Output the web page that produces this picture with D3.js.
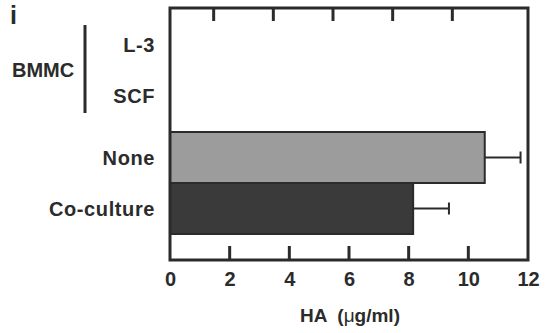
<!DOCTYPE html>
<html><head><meta charset="utf-8">
<script src="https://cdn.jsdelivr.net/npm/d3@7"></script>
<style>body{margin:0;background:#fff}svg{display:block}text{font-family:"Liberation Sans",Arial,sans-serif;font-weight:bold;fill:#2b2b2b}</style>
</head><body><svg id="c" width="547" height="333"></svg>
<script>
const categories = ["L-3", "SCF", "None", "Co-culture"];
const values = [null, null, 10.55, 8.15];
const errors = [null, null, 1.2, 1.2];
const fills = [null, null, "#9c9c9c", "#3a3a3a"];
const xTicks = [0, 2, 4, 6, 8, 10, 12];
const groupLabel = "BMMC";
const panelLabel = "i";
const xTitleParts = ["HA  (", "\u03bc", "g/ml)"];

(function () {
const svg = d3.select("#c");
const x = d3.scaleLinear().domain([0, 12]).range([170, 528]);
const y = d3.scaleBand().domain(categories).range([30, 234]).padding(0);
const frameTop = 8, frameBottom = 260;
const ink = "#2b2b2b";

const data = categories.map((c, i) => ({c, v: values[i], e: errors[i], f: fills[i]})).filter(d => d.v != null);
svg.selectAll("rect.bar").data(data).enter().append("rect")
  .attr("x", x(0)).attr("y", d => y(d.c)).attr("width", d => x(d.v) - x(0))
  .attr("height", y.bandwidth()).attr("fill", d => d.f)
  .attr("stroke", ink).attr("stroke-width", 2);

const eb = svg.selectAll("g.err").data(data).enter().append("g");
eb.append("line").attr("x1", d => x(d.v)).attr("x2", d => x(d.v + d.e))
  .attr("y1", d => y(d.c) + y.bandwidth() / 2).attr("y2", d => y(d.c) + y.bandwidth() / 2)
  .attr("stroke", ink).attr("stroke-width", 2);
eb.append("line").attr("x1", d => x(d.v + d.e)).attr("x2", d => x(d.v + d.e))
  .attr("y1", d => y(d.c) + y.bandwidth() / 2 - 6).attr("y2", d => y(d.c) + y.bandwidth() / 2 + 6)
  .attr("stroke", ink).attr("stroke-width", 2);

svg.append("rect").attr("x", x(0)).attr("y", frameTop).attr("width", x(12) - x(0)).attr("height", frameBottom - frameTop)
  .attr("fill", "none").attr("stroke", ink).attr("stroke-width", 3);

const inner = xTicks.filter(t => t > 0 && t < 12);
const bAxis = d3.axisBottom(x).tickValues(xTicks).tickSize(0).tickPadding(12).tickFormat(d3.format("d"));
const gb = svg.append("g").attr("transform", `translate(0,${frameBottom})`).call(bAxis);
gb.select(".domain").remove();
gb.selectAll("text").attr("font-size", 20).attr("font-family", "Liberation Sans, Arial, sans-serif").attr("font-weight", "bold").attr("fill", ink).attr("dy", "0.71em");
svg.append("g").selectAll("line").data(inner).enter().append("line")
  .attr("x1", d => x(d)).attr("x2", d => x(d)).attr("y1", frameBottom).attr("y2", frameBottom - 14)
  .attr("stroke", ink).attr("stroke-width", 3);
svg.append("g").attr("transform", "translate(-16,0)").selectAll("line").data(inner).enter().append("line")
  .attr("x1", d => x(d)).attr("x2", d => x(d)).attr("y1", frameTop).attr("y2", frameTop + 13)
  .attr("stroke", ink).attr("stroke-width", 3);

const t = svg.append("text").attr("x", 350).attr("y", 322).attr("text-anchor", "middle").attr("font-size", 19)
  .style("white-space", "pre").attr("xml:space", "preserve");
t.selectAll("tspan").data(xTitleParts).enter().append("tspan")
  .attr("font-weight", (d, i) => i === 1 ? "normal" : "bold").text(d => d);

svg.selectAll("text.cat").data(categories).enter().append("text")
  .attr("x", 155).attr("y", (d, i) => y(d) + y.bandwidth() / 2 + (i < 2 ? -10.5 : 0))
  .attr("dy", "0.36em").attr("text-anchor", "end").attr("font-size", 20).attr("letter-spacing", 0.6).text(d => d);

svg.append("line").attr("x1", 85).attr("x2", 85).attr("y1", 25).attr("y2", 113).attr("stroke", ink).attr("stroke-width", 3);
svg.append("text").attr("x", 12).attr("y", 70).attr("dy", "0.36em").attr("font-size", 20).text(groupLabel);
svg.append("text").attr("x", 10).attr("y", 24).attr("font-size", 25).text(panelLabel);
})();
</script></body></html>
